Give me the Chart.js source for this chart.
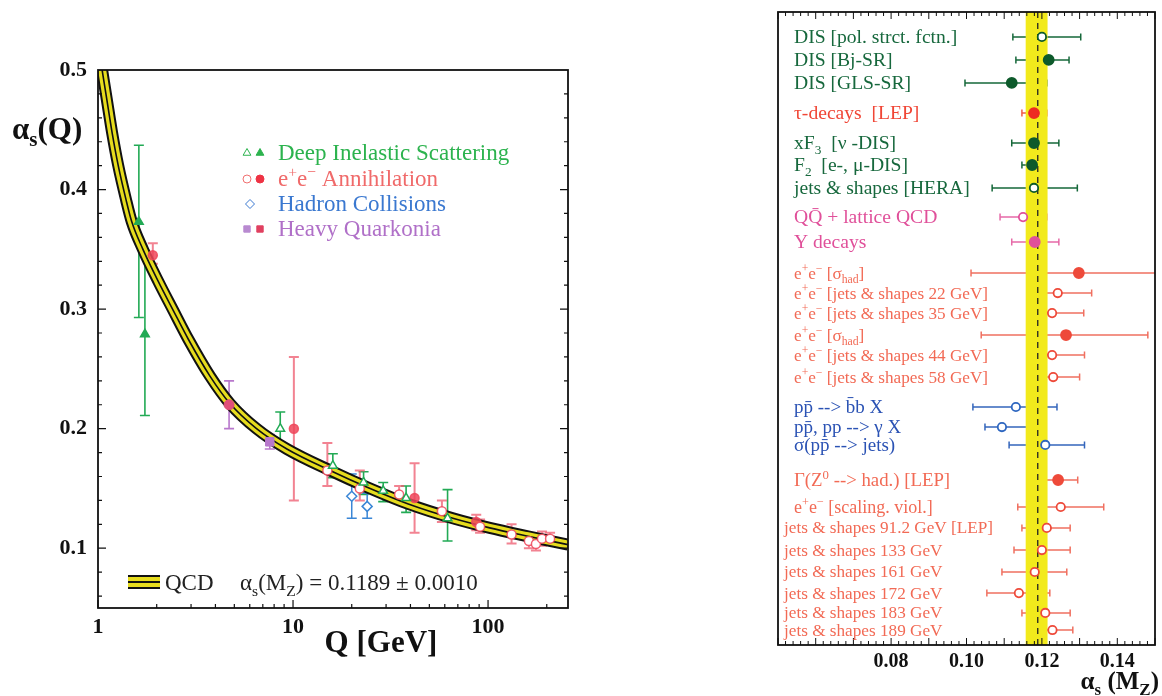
<!DOCTYPE html>
<html>
<head>
<meta charset="utf-8">
<script src="https://cdn.jsdelivr.net/npm/chart.js@4.4.1/dist/chart.umd.min.js"></script>
<style>
  html, body { margin: 0; padding: 0; background: #fff; }
  #wrap { position: relative; width: 1162px; height: 696px; overflow: hidden; }
  canvas { position: absolute; top: 0; }
  #runChart { left: 0; }
  #sumChart { left: 740px; }
</style>
</head>
<body>
<div id="wrap">
  <canvas id="runChart" width="580" height="696"></canvas>
  <canvas id="sumChart" width="422" height="696"></canvas>
</div>
<script>
// ---- left panel: alpha_s(Q) against Q ----
const qcdQ     = [1.05, 1.108, 1.18, 1.27, 1.39, 1.49, 1.70, 2.04, 2.43, 2.9, 3.75, 4.75, 6.5, 9.3, 16, 24, 39, 66, 102, 160, 257];
const qcdAlpha = [0.500, 0.476, 0.448, 0.420, 0.392, 0.373, 0.350, 0.323, 0.299, 0.275, 0.244, 0.221, 0.200, 0.183, 0.164, 0.151, 0.137, 0.125, 0.117, 0.110, 0.103];

const disQ      = [1.62, 1.74, 8.6, 16, 23, 29, 38, 62];
const disAlpha  = [0.373, 0.279, 0.200, 0.169, 0.155, 0.148, 0.142, 0.125];
const disLow    = [0.293, 0.211, 0.186, 0.159, 0.145, 0.139, 0.130, 0.106];
const disHigh   = [0.437, 0.349, 0.214, 0.179, 0.164, 0.155, 0.152, 0.149];
const disFilled = [1, 1, 0, 0, 0, 0, 0, 0];

const eeQ      = [1.91, 10.1, 15, 22, 35, 42, 58, 87, 91, 132, 162, 176, 189, 208];
const eeAlpha  = [0.345, 0.200, 0.165, 0.150, 0.145, 0.142, 0.131, 0.122, 0.118, 0.1115, 0.106, 0.1035, 0.108, 0.108];
const eeLow    = [0.338, 0.140, 0.152, 0.140, 0.139, 0.113, 0.122, 0.115, 0.113, 0.104, 0.100, 0.098, 0.102, 0.103];
const eeHigh   = [0.355, 0.260, 0.188, 0.165, 0.152, 0.171, 0.140, 0.128, 0.124, 0.120, 0.112, 0.110, 0.114, 0.113];
const eeFilled = [1, 1, 0, 0, 0, 1, 0, 1, 0, 0, 0, 0, 0, 0];

const hadQ     = [20, 24];
const hadAlpha = [0.1435, 0.135];
const hadLow   = [0.125, 0.125];
const hadHigh  = [0.162, 0.146];

const hqQ     = [4.7, 7.6];
const hqAlpha = [0.220, 0.189];
const hqLow   = [0.200, 0.183];
const hqHigh  = [0.240, 0.195];

const runXTicks = [1, 10, 100];
const runYTicks = [0.1, 0.2, 0.3, 0.4, 0.5];

// ---- right panel: alpha_s(M_Z) summary ----
const rowLabels = [
  'DIS [pol. strct. fctn.]', 'DIS [Bj-SR]', 'DIS [GLS-SR]', '\u03c4-decays  [LEP]',
  'xF_{3}  [\u03bd -DIS]', 'F_{2}  [e-, \u03bc-DIS]', 'jets & shapes [HERA]',
  'QQ\u0304 + lattice QCD', '\u03a5 decays',
  'e^{+}e^{\u2212} [\u03c3_{had}]', 'e^{+}e^{\u2212} [jets & shapes 22 GeV]', 'e^{+}e^{\u2212} [jets & shapes 35 GeV]',
  'e^{+}e^{\u2212} [\u03c3_{had}]', 'e^{+}e^{\u2212} [jets & shapes 44 GeV]', 'e^{+}e^{\u2212} [jets & shapes 58 GeV]',
  'pp\u0304 --> b\u0304b X', 'pp\u0304, pp --> \u03b3 X', '\u03c3(pp\u0304 --> jets)',
  '\u0393(Z^{0} --> had.) [LEP]', 'e^{+}e^{\u2212} [scaling. viol.]', 'jets & shapes 91.2 GeV [LEP]',
  'jets & shapes 133 GeV', 'jets & shapes 161 GeV', 'jets & shapes 172 GeV',
  'jets & shapes 183 GeV', 'jets & shapes 189 GeV'
];
const rowSlot   = [1.18, 2.27, 3.36, 4.79, 6.21, 7.25, 8.34, 9.72, 10.9, 12.37, 13.32, 14.27, 15.31, 16.26, 17.3, 18.72, 19.67, 20.52, 22.18, 23.46, 24.45, 25.5, 26.54, 27.54, 28.48, 29.29];
const rowValue  = [0.1200, 0.1218, 0.1120, 0.1179, 0.1179, 0.1174, 0.1179, 0.1150, 0.1181, 0.1298, 0.1242, 0.1227, 0.1264, 0.1227, 0.1230, 0.1131, 0.1094, 0.1209, 0.1243, 0.1250, 0.1213, 0.1200, 0.1181, 0.1139, 0.1209, 0.1228];
const rowLow    = [0.1123, 0.1131, 0.0996, 0.1147, 0.1120, 0.1147, 0.1068, 0.1089, 0.1120, 0.1012, 0.1160, 0.1166, 0.1039, 0.1168, 0.1160, 0.1017, 0.1049, 0.1113, 0.1189, 0.1136, 0.1147, 0.1126, 0.1094, 0.1054, 0.1147, 0.1176];
const rowHigh   = [0.1303, 0.1272, 0.1213, 0.1213, 0.1245, 0.1197, 0.1294, 0.1213, 0.1245, 0.1600, 0.1332, 0.1311, 0.1481, 0.1313, 0.1300, 0.1240, 0.1178, 0.1313, 0.1295, 0.1364, 0.1275, 0.1275, 0.1266, 0.1221, 0.1275, 0.1282];
const rowFilled = [0, 1, 1, 1, 1, 1, 0, 0, 1, 1, 0, 0, 1, 0, 0, 0, 0, 0, 1, 0, 0, 0, 0, 0, 0, 0];
const rowGroup  = ['dis', 'dis', 'dis', 'tau', 'dis', 'dis', 'dis', 'hq', 'hq', 'ee', 'ee', 'ee', 'ee', 'ee', 'ee',
                   'pp', 'pp', 'pp', 'ee', 'ee', 'ee', 'ee', 'ee', 'ee', 'ee', 'ee'];
const worldAvg = 0.1189;
const worldBand = [0.1157, 0.1215];
const sumXTicks = [0.08, 0.10, 0.12, 0.14];

const SERIF = '"Liberation Serif", "DejaVu Serif", serif';
const groupText  = { dis: '#17683d', tau: '#f04636', hq: '#e0509a', ee: '#f26a55', pp: '#2a52b4' };
const groupPoint = { dis: '#0d5a2b', tau: '#ee2a22', hq: '#e0509a', ee: '#ee4a3a', pp: '#2d66c0' };
const groupBar   = { dis: '#16683a', tau: '#f05a48', hq: '#e66aa8', ee: '#f07060', pp: '#3466bc' };

// text with _{sub} and ^{sup} parts, y = baseline
function drawRich(ctx, text, x, y, size, color, weight, align) {
  const parts = [];
  const re = /([_^])\{([^}]*)\}/g;
  let last = 0, m;
  while ((m = re.exec(text))) {
    if (m.index > last) parts.push({ t: text.slice(last, m.index), k: '' });
    parts.push({ t: m[2], k: m[1] });
    last = re.lastIndex;
  }
  if (last < text.length) parts.push({ t: text.slice(last), k: '' });
  ctx.save();
  ctx.fillStyle = color;
  ctx.textBaseline = 'alphabetic';
  ctx.textAlign = 'left';
  const fontOf = p => `${weight || 'normal'} ${p.k ? size * 0.68 : size}px ${SERIF}`;
  let w = 0;
  parts.forEach(p => { ctx.font = fontOf(p); w += ctx.measureText(p.t).width; });
  let cx = align === 'right' ? x - w : x;
  parts.forEach(p => {
    const dy = p.k === '_' ? size * 0.24 : p.k === '^' ? -size * 0.38 : 0;
    ctx.font = fontOf(p);
    ctx.fillText(p.t, cx, y + dy);
    cx += ctx.measureText(p.t).width;
  });
  ctx.restore();
}

const errorBars = {
  id: 'errorBars',
  beforeDatasetsDraw(chart) {
    const { ctx, chartArea: a, scales } = chart;
    ctx.save();
    ctx.beginPath();
    ctx.rect(a.left, a.top, a.right - a.left, a.bottom - a.top);
    ctx.clip();
    chart.data.datasets.forEach(ds => {
      if (!ds.errDir) return;
      ds.data.forEach((p, i) => {
        ctx.strokeStyle = Array.isArray(ds.errColor) ? ds.errColor[i] : ds.errColor;
        ctx.lineWidth = ds.errWidth || 1.5;
        const cap = ds.errCap || 4;
        ctx.beginPath();
        if (ds.errDir === 'v') {
          const x = scales.x.getPixelForValue(p.x);
          const y1 = scales.y.getPixelForValue(p.lo), y2 = scales.y.getPixelForValue(p.hi);
          ctx.moveTo(x, y1); ctx.lineTo(x, y2);
          ctx.moveTo(x - cap, y1); ctx.lineTo(x + cap, y1);
          ctx.moveTo(x - cap, y2); ctx.lineTo(x + cap, y2);
        } else {
          const y = scales.y.getPixelForValue(p.y);
          const x1 = scales.x.getPixelForValue(p.lo), x2 = scales.x.getPixelForValue(p.hi);
          ctx.moveTo(x1, y); ctx.lineTo(x2, y);
          ctx.moveTo(x1, y - cap); ctx.lineTo(x1, y + cap);
          ctx.moveTo(x2, y - cap); ctx.lineTo(x2, y + cap);
        }
        ctx.stroke();
      });
    });
    ctx.restore();
  }
};

function tick(ctx, x1, y1, x2, y2) { ctx.moveTo(x1, y1); ctx.lineTo(x2, y2); }

// ---------- left chart ----------
const pts = (xs, ys, lo, hi) => xs.map((x, i) => ({ x, y: ys[i], lo: lo ? lo[i] : null, hi: hi ? hi[i] : null }));
const green = '#22aa55', red = 'rgba(238,70,90,0.85)', blue = '#3a86d6', purple = '#b878cc';

const runFrame = {
  id: 'runFrame',
  afterDraw(chart) {
    const { ctx, chartArea: a, scales: { x, y } } = chart;
    ctx.save();
    ctx.strokeStyle = '#111';
    ctx.lineWidth = 1.8;
    ctx.strokeRect(a.left, a.top, a.right - a.left, a.bottom - a.top);
    ctx.lineWidth = 1.2;
    ctx.beginPath();
    for (let v = 0.06; v < 0.5; v += 0.02) {
      const py = y.getPixelForValue(v);
      const major = runYTicks.some(t => Math.abs(t - v) < 1e-6);
      const len = major ? 8 : 4;
      tick(ctx, a.left, py, a.left + len, py);
      tick(ctx, a.right, py, a.right - len, py);
    }
    [1, 10, 100].forEach(d => {
      for (let k = 1; k < 10; k++) {
        const v = d * k;
        if (v > x.max) return;
        const px = x.getPixelForValue(v);
        const len = k === 1 ? 8 : 4;
        tick(ctx, px, a.bottom, px, a.bottom - len);
      }
    });
    ctx.stroke();
    ctx.restore();

    // axis titles
    drawRich(ctx, '\u03b1_{s}(Q)', 12, 139, 31, '#111', 'bold');
    ctx.save();
    ctx.font = `bold 31px ${SERIF}`;
    ctx.fillStyle = '#111';
    ctx.textAlign = 'center';
    ctx.fillText('Q [GeV]', 381, 652);
    ctx.restore();

    // legend, top
    const H = Chart.helpers;
    const sym = (style, r, fill, stroke, px, py) => {
      ctx.save();
      ctx.fillStyle = fill; ctx.strokeStyle = stroke;
      H.drawPoint(ctx, { pointStyle: style, radius: r, borderWidth: 1.4, rotation: 0 }, px, py);
      ctx.restore();
    };
    sym('triangle', 4.5, '#fff', '#2cb34e', 247, 153);
    sym('triangle', 4.5, '#2cb34e', '#2cb34e', 260, 153);
    sym('circle', 4, '#fff', '#f07070', 247, 179);
    sym('circle', 4, '#ee3344', '#ee3344', 260, 179);
    sym('rectRot', 4.5, '#fff', '#3a78d0', 250, 204);
    sym('rect', 4.5, '#b88ad0', '#b88ad0', 247, 229);
    sym('rect', 4.5, '#e04060', '#e04060', 260, 229);
    drawRich(ctx, 'Deep Inelastic Scattering', 278, 160, 23, '#2cb34e');
    drawRich(ctx, 'e^{+}e^{\u2212} Annihilation', 278, 186, 23, '#f06a6a');
    drawRich(ctx, 'Hadron Collisions', 278, 211, 23, '#3a78d0');
    drawRich(ctx, 'Heavy Quarkonia', 278, 236, 23, '#b070c8');

    // legend, bottom
    ctx.save();
    ctx.fillStyle = '#e6dc1e';
    ctx.fillRect(128, 576, 32, 12);
    ctx.strokeStyle = '#111';
    ctx.lineWidth = 1.8;
    ctx.beginPath();
    tick(ctx, 128, 576, 160, 576);
    tick(ctx, 128, 582, 160, 582);
    tick(ctx, 128, 588, 160, 588);
    ctx.stroke();
    ctx.restore();
    drawRich(ctx, 'QCD', 165, 590, 23, '#222');
    drawRich(ctx, '\u03b1_{s}(M_{Z}) = 0.1189 \u00b1 0.0010', 240, 590, 23, '#222');
  }
};

const qcdLine = (color, width, order) => ({
  data: pts(qcdQ, qcdAlpha), showLine: true, borderColor: color, borderWidth: width,
  pointRadius: 0, cubicInterpolationMode: 'monotone', order, clip: 0
});

new Chart(document.getElementById('runChart').getContext('2d'), {
  type: 'scatter',
  data: {
    datasets: [
      qcdLine('#111', 12, 12),
      qcdLine('#e6dc1e', 8, 11),
      qcdLine('#111', 1.6, 10),
      {
        data: pts(disQ, disAlpha, disLow, disHigh), order: 1,
        pointStyle: 'triangle', pointRadius: 5, pointBorderWidth: 1.5,
        pointBorderColor: green, pointBackgroundColor: disFilled.map(f => f ? green : '#fff'),
        errDir: 'v', errColor: green, errWidth: 1.6, errCap: 5
      },
      {
        data: pts(eeQ, eeAlpha, eeLow, eeHigh), order: 2,
        pointStyle: 'circle', pointRadius: 4.5, pointBorderWidth: 1.5,
        pointBorderColor: red, pointBackgroundColor: eeFilled.map(f => f ? red : '#fff'),
        errDir: 'v', errColor: 'rgba(238,90,110,0.75)', errWidth: 2, errCap: 5
      },
      {
        data: pts(hadQ, hadAlpha, hadLow, hadHigh), order: 0,
        pointStyle: 'rectRot', pointRadius: 5, pointBorderWidth: 1.5,
        pointBorderColor: blue, pointBackgroundColor: '#fff',
        errDir: 'v', errColor: blue, errWidth: 1.5, errCap: 5
      },
      {
        data: pts(hqQ, hqAlpha, hqLow, hqHigh), order: 0,
        pointStyle: ['circle', 'rect'], pointRadius: [5, 6], pointBorderWidth: 1,
        pointBorderColor: ['#e0507a', purple], pointBackgroundColor: ['#e0507a', purple],
        errDir: 'v', errColor: purple, errWidth: 1.6, errCap: 5
      }
    ]
  },
  options: {
    responsive: false,
    animation: false,
    layout: { padding: { top: 70, right: 12, left: 0, bottom: 0 } },
    plugins: { legend: { display: false }, tooltip: { enabled: false } },
    scales: {
      x: {
        type: 'logarithmic', min: 1, max: 257,
        grid: { display: false, drawTicks: false }, border: { display: false },
        afterBuildTicks: s => { s.ticks = runXTicks.map(v => ({ value: v })); },
        afterFit: s => { s.height = 88; },
        ticks: { autoSkip: false, maxRotation: 0, padding: 6, color: '#111',
                 font: { family: SERIF, size: 22, weight: 'bold' }, callback: v => String(v) }
      },
      y: {
        min: 0.05, max: 0.5,
        grid: { display: false, drawTicks: false }, border: { display: false },
        afterBuildTicks: s => { s.ticks = runYTicks.map(v => ({ value: v })); },
        afterFit: s => { s.width = 98; },
        ticks: { padding: 11, color: '#111',
                 font: { family: SERIF, size: 22, weight: 'bold' }, callback: v => v.toFixed(1) }
      }
    }
  },
  plugins: [errorBars, runFrame]
});

// ---------- right chart ----------
const sumDecor = {
  id: 'sumDecor',
  beforeDatasetsDraw(chart) {
    const { ctx, chartArea: a, scales: { x } } = chart;
    const x1 = x.getPixelForValue(worldBand[0]), x2 = x.getPixelForValue(worldBand[1]);
    ctx.save();
    ctx.fillStyle = '#f2ea1c';
    ctx.fillRect(x1, a.top, x2 - x1, a.bottom - a.top);
    const xm = x.getPixelForValue(worldAvg);
    ctx.strokeStyle = '#222';
    ctx.lineWidth = 1.3;
    ctx.setLineDash([6, 5]);
    ctx.beginPath();
    tick(ctx, xm, a.top, xm, a.bottom);
    ctx.stroke();
    ctx.restore();
  },
  afterDraw(chart) {
    const { ctx, chartArea: a, scales: { x, y } } = chart;
    ctx.save();
    ctx.strokeStyle = '#111';
    ctx.lineWidth = 1.8;
    ctx.strokeRect(a.left, a.top, a.right - a.left, a.bottom - a.top);
    ctx.lineWidth = 1;
    ctx.beginPath();
    for (let i = 25; i <= 75; i++) {
      const v = i * 0.002;
      const px = x.getPixelForValue(v);
      const len = i % 5 === 0 ? 7 : 4;
      tick(ctx, px, a.bottom, px, a.bottom - len);
      tick(ctx, px, a.top, px, a.top + len);
    }
    ctx.stroke();
    ctx.restore();

    rowLabels.forEach((lab, i) => {
      const g = rowGroup[i];
      let size = 17.2;
      if (i < 9) size = 19.6;
      else if (g === 'pp') size = 19;
      else if (i === 18) size = 18.8;
      else if (i === 19) size = 18;
      const lx = i >= 20 ? a.left + 6 : a.left + 16;
      const py = y.getPixelForValue(rowSlot[i]);
      drawRich(ctx, lab, lx, py + size * 0.32, size, groupText[g]);
    });

    drawRich(ctx, '\u03b1_{s} (M_{Z})', 419, 689, 25, '#111', 'bold', 'right');
  }
};

new Chart(document.getElementById('sumChart').getContext('2d'), {
  type: 'scatter',
  data: {
    datasets: [{
      data: rowValue.map((v, i) => ({ x: v, y: rowSlot[i], lo: rowLow[i], hi: rowHigh[i] })),
      pointStyle: 'circle',
      pointRadius: rowFilled.map(f => f ? 5 : 4.2),
      pointBorderWidth: 1.8,
      pointBorderColor: rowGroup.map(g => groupPoint[g]),
      pointBackgroundColor: rowGroup.map((g, i) => rowFilled[i] ? groupPoint[g] : '#fff'),
      errDir: 'h', errColor: rowGroup.map(g => groupBar[g]), errWidth: 1.5, errCap: 3.5
    }]
  },
  options: {
    responsive: false,
    animation: false,
    layout: { padding: { top: 12, right: 7, left: 38, bottom: 0 } },
    plugins: { legend: { display: false }, tooltip: { enabled: false } },
    scales: {
      x: {
        min: 0.05, max: 0.15,
        grid: { display: false, drawTicks: false }, border: { display: false },
        afterBuildTicks: s => { s.ticks = sumXTicks.map(v => ({ value: v })); },
        afterFit: s => { s.height = 51; },
        ticks: { autoSkip: false, maxRotation: 0, padding: 5, color: '#111',
                 font: { family: SERIF, size: 20, weight: 'bold' }, callback: v => v.toFixed(2) }
      },
      y: { display: false, reverse: true, min: 0, max: 30 }
    }
  },
  plugins: [errorBars, sumDecor]
});
</script>
</body>
</html>
